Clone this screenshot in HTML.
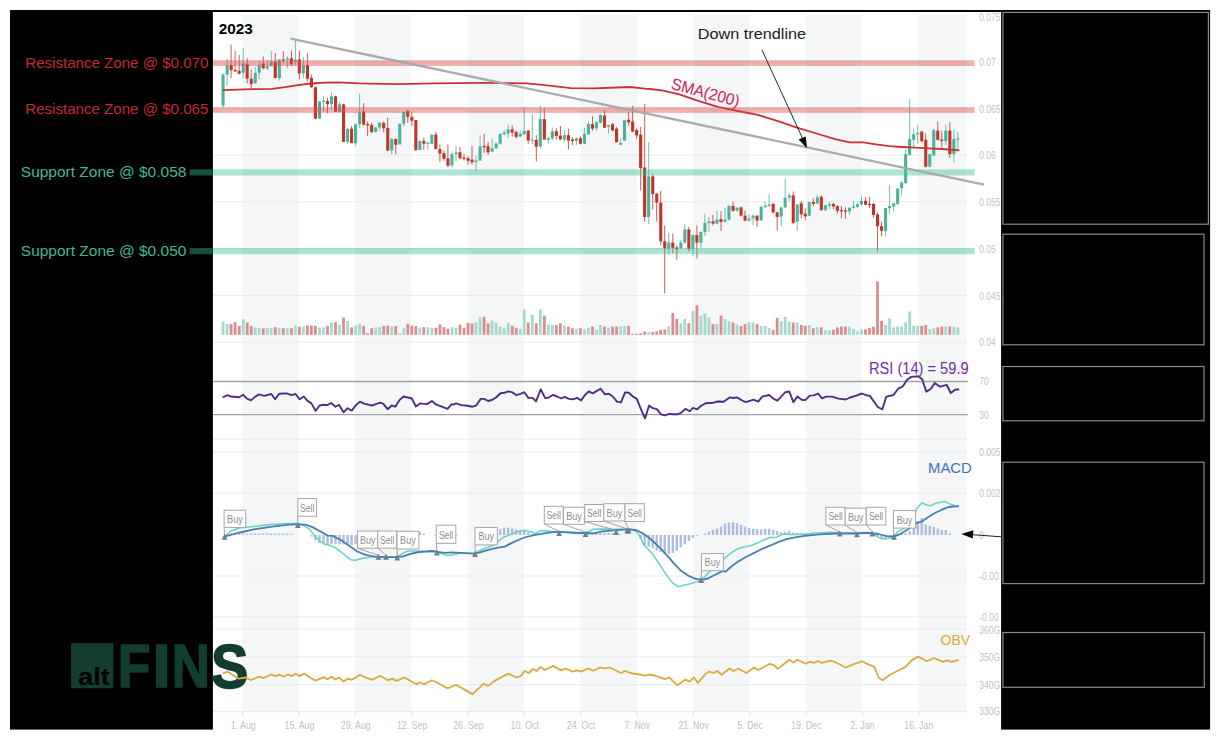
<!DOCTYPE html>
<html lang="en"><head><meta charset="utf-8"><title>Chart 2023</title>
<style>html,body{margin:0;padding:0;background:#fff}svg{display:block;opacity:.999}text{font-family:"Liberation Sans",sans-serif}.ax{font-size:10.5px;fill:#bfbfbf}.fl{font-size:10.5px;fill:#8c8c8c}</style></head><body>
<svg width="1220" height="740" viewBox="0 0 1220 740">
<rect width="1220" height="740" fill="#fff"/>
<g>
<g fill="#f4f6f7">
<rect x="242.3" y="14.8" width="56.3" height="697"/>
<rect x="355" y="14.8" width="56.3" height="697"/>
<rect x="467.7" y="14.8" width="56.3" height="697"/>
<rect x="580.4" y="14.8" width="56.3" height="697"/>
<rect x="693.1" y="14.8" width="56.3" height="697"/>
<rect x="805.8" y="14.8" width="56.3" height="697"/>
<rect x="918.5" y="14.8" width="48.1" height="697"/>
</g>
<g stroke="#ebebec" stroke-width="1.1">
<line x1="213" y1="62.3" x2="967" y2="62.3"/>
<line x1="213" y1="108.8" x2="967" y2="108.8"/>
<line x1="213" y1="155.3" x2="967" y2="155.3"/>
<line x1="213" y1="201.8" x2="967" y2="201.8"/>
<line x1="213" y1="248.6" x2="967" y2="248.6"/>
<line x1="213" y1="295.5" x2="967" y2="295.5"/>
<line x1="213" y1="342.3" x2="967" y2="342.3"/>
<line x1="213" y1="439.2" x2="967" y2="439.2"/>
<line x1="213" y1="451.8" x2="967" y2="451.8"/>
<line x1="213" y1="493.3" x2="967" y2="493.3"/>
<line x1="213" y1="576" x2="967" y2="576"/>
<line x1="213" y1="616.7" x2="967" y2="616.7"/>
<line x1="213" y1="629" x2="967" y2="629"/>
<line x1="213" y1="656.8" x2="967" y2="656.8"/>
<line x1="213" y1="684.6" x2="967" y2="684.6"/>
<line x1="213" y1="711.6" x2="967" y2="711.6"/>
</g>
<g stroke="#e2e2e2" stroke-width="1">
<line x1="242.6" y1="711.6" x2="242.6" y2="716"/>
<line x1="298.9" y1="711.6" x2="298.9" y2="716"/>
<line x1="355.3" y1="711.6" x2="355.3" y2="716"/>
<line x1="411.6" y1="711.6" x2="411.6" y2="716"/>
<line x1="468" y1="711.6" x2="468" y2="716"/>
<line x1="524.4" y1="711.6" x2="524.4" y2="716"/>
<line x1="580.7" y1="711.6" x2="580.7" y2="716"/>
<line x1="637" y1="711.6" x2="637" y2="716"/>
<line x1="693.4" y1="711.6" x2="693.4" y2="716"/>
<line x1="749.8" y1="711.6" x2="749.8" y2="716"/>
<line x1="806.1" y1="711.6" x2="806.1" y2="716"/>
<line x1="862.5" y1="711.6" x2="862.5" y2="716"/>
<line x1="918.8" y1="711.6" x2="918.8" y2="716"/>
</g>
<g>
<rect x="221.7" y="321.7" width="2.8" height="13.1" fill="#a3dacd"/>
<rect x="225.7" y="324.1" width="2.8" height="10.7" fill="#a3dacd"/>
<rect x="229.7" y="324.1" width="2.8" height="10.7" fill="#db8c8c"/>
<rect x="233.7" y="322.2" width="2.8" height="12.6" fill="#db8c8c"/>
<rect x="237.8" y="325.8" width="2.8" height="9" fill="#db8c8c"/>
<rect x="241.8" y="319.2" width="2.8" height="15.6" fill="#a3dacd"/>
<rect x="245.8" y="322.5" width="2.8" height="12.3" fill="#db8c8c"/>
<rect x="249.8" y="325.8" width="2.8" height="9" fill="#db8c8c"/>
<rect x="253.8" y="327.4" width="2.8" height="7.4" fill="#a3dacd"/>
<rect x="257.8" y="327.8" width="2.8" height="7" fill="#a3dacd"/>
<rect x="261.9" y="328.2" width="2.8" height="6.6" fill="#db8c8c"/>
<rect x="265.9" y="327.8" width="2.8" height="7" fill="#a3dacd"/>
<rect x="269.9" y="327.8" width="2.8" height="7" fill="#a3dacd"/>
<rect x="273.9" y="327.1" width="2.8" height="7.7" fill="#db8c8c"/>
<rect x="277.9" y="327.8" width="2.8" height="7" fill="#a3dacd"/>
<rect x="281.9" y="328.2" width="2.8" height="6.6" fill="#db8c8c"/>
<rect x="285.9" y="328.2" width="2.8" height="6.6" fill="#a3dacd"/>
<rect x="290" y="328.2" width="2.8" height="6.6" fill="#db8c8c"/>
<rect x="294" y="325.8" width="2.8" height="9" fill="#a3dacd"/>
<rect x="298" y="326.6" width="2.8" height="8.2" fill="#db8c8c"/>
<rect x="302" y="326.6" width="2.8" height="8.2" fill="#a3dacd"/>
<rect x="306" y="325.5" width="2.8" height="9.3" fill="#db8c8c"/>
<rect x="310" y="325.5" width="2.8" height="9.3" fill="#db8c8c"/>
<rect x="314" y="325.8" width="2.8" height="9" fill="#db8c8c"/>
<rect x="318.1" y="327.4" width="2.8" height="7.4" fill="#a3dacd"/>
<rect x="322.1" y="327.4" width="2.8" height="7.4" fill="#a3dacd"/>
<rect x="326.1" y="325.8" width="2.8" height="9" fill="#db8c8c"/>
<rect x="330.1" y="322.5" width="2.8" height="12.3" fill="#a3dacd"/>
<rect x="334.1" y="322.2" width="2.8" height="12.6" fill="#db8c8c"/>
<rect x="338.1" y="325" width="2.8" height="9.8" fill="#a3dacd"/>
<rect x="342.1" y="317.6" width="2.8" height="17.2" fill="#db8c8c"/>
<rect x="346.2" y="320.9" width="2.8" height="13.9" fill="#a3dacd"/>
<rect x="350.2" y="327.4" width="2.8" height="7.4" fill="#db8c8c"/>
<rect x="354.2" y="325.8" width="2.8" height="9" fill="#a3dacd"/>
<rect x="358.2" y="323.8" width="2.8" height="11" fill="#a3dacd"/>
<rect x="362.2" y="325.8" width="2.8" height="9" fill="#db8c8c"/>
<rect x="366.2" y="333.2" width="2.8" height="1.6" fill="#db8c8c"/>
<rect x="370.3" y="328.2" width="2.8" height="6.6" fill="#db8c8c"/>
<rect x="374.3" y="327.4" width="2.8" height="7.4" fill="#a3dacd"/>
<rect x="378.3" y="327.1" width="2.8" height="7.7" fill="#a3dacd"/>
<rect x="382.3" y="325.8" width="2.8" height="9" fill="#db8c8c"/>
<rect x="386.3" y="325.5" width="2.8" height="9.3" fill="#db8c8c"/>
<rect x="390.3" y="326.6" width="2.8" height="8.2" fill="#a3dacd"/>
<rect x="394.3" y="326.1" width="2.8" height="8.7" fill="#db8c8c"/>
<rect x="398.4" y="333.2" width="2.8" height="1.6" fill="#a3dacd"/>
<rect x="402.4" y="328.2" width="2.8" height="6.6" fill="#a3dacd"/>
<rect x="406.4" y="323.8" width="2.8" height="11" fill="#db8c8c"/>
<rect x="410.4" y="325.5" width="2.8" height="9.3" fill="#db8c8c"/>
<rect x="414.4" y="326.1" width="2.8" height="8.7" fill="#db8c8c"/>
<rect x="418.4" y="327.4" width="2.8" height="7.4" fill="#a3dacd"/>
<rect x="422.4" y="327.1" width="2.8" height="7.7" fill="#db8c8c"/>
<rect x="426.5" y="327.4" width="2.8" height="7.4" fill="#a3dacd"/>
<rect x="430.5" y="327.8" width="2.8" height="7" fill="#a3dacd"/>
<rect x="434.5" y="327.8" width="2.8" height="7" fill="#db8c8c"/>
<rect x="438.5" y="324.5" width="2.8" height="10.3" fill="#db8c8c"/>
<rect x="442.5" y="327.1" width="2.8" height="7.7" fill="#db8c8c"/>
<rect x="446.5" y="328.8" width="2.8" height="6" fill="#db8c8c"/>
<rect x="450.6" y="327.1" width="2.8" height="7.7" fill="#a3dacd"/>
<rect x="454.6" y="327.8" width="2.8" height="7" fill="#a3dacd"/>
<rect x="458.6" y="324.5" width="2.8" height="10.3" fill="#db8c8c"/>
<rect x="462.6" y="327.8" width="2.8" height="7" fill="#db8c8c"/>
<rect x="466.6" y="322.8" width="2.8" height="12" fill="#db8c8c"/>
<rect x="470.6" y="323.3" width="2.8" height="11.5" fill="#db8c8c"/>
<rect x="474.6" y="322.2" width="2.8" height="12.6" fill="#a3dacd"/>
<rect x="478.7" y="316.8" width="2.8" height="18" fill="#a3dacd"/>
<rect x="482.7" y="316.8" width="2.8" height="18" fill="#db8c8c"/>
<rect x="486.7" y="323.3" width="2.8" height="11.5" fill="#db8c8c"/>
<rect x="490.7" y="320.5" width="2.8" height="14.3" fill="#a3dacd"/>
<rect x="494.7" y="322.5" width="2.8" height="12.3" fill="#a3dacd"/>
<rect x="498.7" y="326.6" width="2.8" height="8.2" fill="#a3dacd"/>
<rect x="502.8" y="328.2" width="2.8" height="6.6" fill="#a3dacd"/>
<rect x="506.8" y="322.8" width="2.8" height="12" fill="#a3dacd"/>
<rect x="510.8" y="325.8" width="2.8" height="9" fill="#db8c8c"/>
<rect x="514.8" y="327.8" width="2.8" height="7" fill="#db8c8c"/>
<rect x="518.8" y="328.8" width="2.8" height="6" fill="#a3dacd"/>
<rect x="522.8" y="309.4" width="2.8" height="25.4" fill="#a3dacd"/>
<rect x="526.8" y="322.5" width="2.8" height="12.3" fill="#db8c8c"/>
<rect x="530.9" y="314.6" width="2.8" height="20.2" fill="#a3dacd"/>
<rect x="534.9" y="323.3" width="2.8" height="11.5" fill="#db8c8c"/>
<rect x="538.9" y="309.4" width="2.8" height="25.4" fill="#a3dacd"/>
<rect x="542.9" y="315.6" width="2.8" height="19.2" fill="#db8c8c"/>
<rect x="546.9" y="324.5" width="2.8" height="10.3" fill="#a3dacd"/>
<rect x="550.9" y="325" width="2.8" height="9.8" fill="#a3dacd"/>
<rect x="554.9" y="325" width="2.8" height="9.8" fill="#db8c8c"/>
<rect x="559" y="323.3" width="2.8" height="11.5" fill="#db8c8c"/>
<rect x="563" y="325.8" width="2.8" height="9" fill="#a3dacd"/>
<rect x="567" y="326.6" width="2.8" height="8.2" fill="#db8c8c"/>
<rect x="571" y="328.2" width="2.8" height="6.6" fill="#db8c8c"/>
<rect x="575" y="328.8" width="2.8" height="6" fill="#a3dacd"/>
<rect x="579" y="328.2" width="2.8" height="6.6" fill="#db8c8c"/>
<rect x="583" y="329.4" width="2.8" height="5.4" fill="#a3dacd"/>
<rect x="587.1" y="327.8" width="2.8" height="7" fill="#a3dacd"/>
<rect x="591.1" y="326.6" width="2.8" height="8.2" fill="#db8c8c"/>
<rect x="595.1" y="329.8" width="2.8" height="5" fill="#a3dacd"/>
<rect x="599.1" y="325" width="2.8" height="9.8" fill="#a3dacd"/>
<rect x="603.1" y="326.6" width="2.8" height="8.2" fill="#db8c8c"/>
<rect x="607.1" y="327.8" width="2.8" height="7" fill="#a3dacd"/>
<rect x="611.2" y="326.6" width="2.8" height="8.2" fill="#db8c8c"/>
<rect x="615.2" y="326.6" width="2.8" height="8.2" fill="#db8c8c"/>
<rect x="619.2" y="326.6" width="2.8" height="8.2" fill="#a3dacd"/>
<rect x="623.2" y="326.1" width="2.8" height="8.7" fill="#a3dacd"/>
<rect x="627.2" y="325.8" width="2.8" height="9" fill="#db8c8c"/>
<rect x="631.2" y="333.8" width="2.8" height="1" fill="#db8c8c"/>
<rect x="635.2" y="333.8" width="2.8" height="1" fill="#db8c8c"/>
<rect x="639.3" y="333.2" width="2.8" height="1.6" fill="#db8c8c"/>
<rect x="643.3" y="331.5" width="2.8" height="3.3" fill="#db8c8c"/>
<rect x="647.3" y="332" width="2.8" height="2.8" fill="#a3dacd"/>
<rect x="651.3" y="332" width="2.8" height="2.8" fill="#db8c8c"/>
<rect x="655.3" y="331.5" width="2.8" height="3.3" fill="#db8c8c"/>
<rect x="659.3" y="329.8" width="2.8" height="5" fill="#db8c8c"/>
<rect x="663.4" y="329.4" width="2.8" height="5.4" fill="#db8c8c"/>
<rect x="667.4" y="326.1" width="2.8" height="8.7" fill="#a3dacd"/>
<rect x="671.4" y="313" width="2.8" height="21.8" fill="#db8c8c"/>
<rect x="675.4" y="318.9" width="2.8" height="15.9" fill="#db8c8c"/>
<rect x="679.4" y="323.3" width="2.8" height="11.5" fill="#a3dacd"/>
<rect x="683.4" y="318.9" width="2.8" height="15.9" fill="#a3dacd"/>
<rect x="687.4" y="323.3" width="2.8" height="11.5" fill="#db8c8c"/>
<rect x="691.5" y="311" width="2.8" height="23.8" fill="#a3dacd"/>
<rect x="695.5" y="305.3" width="2.8" height="29.5" fill="#db8c8c"/>
<rect x="699.5" y="315.6" width="2.8" height="19.2" fill="#a3dacd"/>
<rect x="703.5" y="313.5" width="2.8" height="21.3" fill="#a3dacd"/>
<rect x="707.5" y="317.6" width="2.8" height="17.2" fill="#a3dacd"/>
<rect x="711.5" y="324.1" width="2.8" height="10.7" fill="#db8c8c"/>
<rect x="715.5" y="323.8" width="2.8" height="11" fill="#a3dacd"/>
<rect x="719.6" y="315.6" width="2.8" height="19.2" fill="#db8c8c"/>
<rect x="723.6" y="319.2" width="2.8" height="15.6" fill="#a3dacd"/>
<rect x="727.6" y="321.2" width="2.8" height="13.6" fill="#a3dacd"/>
<rect x="731.6" y="322.5" width="2.8" height="12.3" fill="#db8c8c"/>
<rect x="735.6" y="324.5" width="2.8" height="10.3" fill="#a3dacd"/>
<rect x="739.6" y="326.1" width="2.8" height="8.7" fill="#db8c8c"/>
<rect x="743.6" y="324.1" width="2.8" height="10.7" fill="#db8c8c"/>
<rect x="747.7" y="322.5" width="2.8" height="12.3" fill="#a3dacd"/>
<rect x="751.7" y="322.5" width="2.8" height="12.3" fill="#a3dacd"/>
<rect x="755.7" y="324.1" width="2.8" height="10.7" fill="#db8c8c"/>
<rect x="759.7" y="326.1" width="2.8" height="8.7" fill="#a3dacd"/>
<rect x="763.7" y="326.1" width="2.8" height="8.7" fill="#a3dacd"/>
<rect x="767.7" y="327.8" width="2.8" height="7" fill="#a3dacd"/>
<rect x="771.8" y="329.8" width="2.8" height="5" fill="#db8c8c"/>
<rect x="775.8" y="317.9" width="2.8" height="16.9" fill="#db8c8c"/>
<rect x="779.8" y="321.2" width="2.8" height="13.6" fill="#a3dacd"/>
<rect x="783.8" y="316.8" width="2.8" height="18" fill="#a3dacd"/>
<rect x="787.8" y="321.7" width="2.8" height="13.1" fill="#a3dacd"/>
<rect x="791.8" y="322.5" width="2.8" height="12.3" fill="#db8c8c"/>
<rect x="795.8" y="322.5" width="2.8" height="12.3" fill="#a3dacd"/>
<rect x="799.9" y="325" width="2.8" height="9.8" fill="#db8c8c"/>
<rect x="803.9" y="325.8" width="2.8" height="9" fill="#db8c8c"/>
<rect x="807.9" y="325" width="2.8" height="9.8" fill="#a3dacd"/>
<rect x="811.9" y="328.2" width="2.8" height="6.6" fill="#db8c8c"/>
<rect x="815.9" y="327.1" width="2.8" height="7.7" fill="#a3dacd"/>
<rect x="819.9" y="327.4" width="2.8" height="7.4" fill="#db8c8c"/>
<rect x="824" y="330.4" width="2.8" height="4.4" fill="#a3dacd"/>
<rect x="828" y="330.4" width="2.8" height="4.4" fill="#a3dacd"/>
<rect x="832" y="329.8" width="2.8" height="5" fill="#db8c8c"/>
<rect x="836" y="327.4" width="2.8" height="7.4" fill="#db8c8c"/>
<rect x="840" y="326.6" width="2.8" height="8.2" fill="#db8c8c"/>
<rect x="844" y="326.6" width="2.8" height="8.2" fill="#db8c8c"/>
<rect x="848" y="326.6" width="2.8" height="8.2" fill="#a3dacd"/>
<rect x="852.1" y="328.8" width="2.8" height="6" fill="#a3dacd"/>
<rect x="856.1" y="331.5" width="2.8" height="3.3" fill="#a3dacd"/>
<rect x="860.1" y="329.4" width="2.8" height="5.4" fill="#a3dacd"/>
<rect x="864.1" y="329.4" width="2.8" height="5.4" fill="#db8c8c"/>
<rect x="868.1" y="327.8" width="2.8" height="7" fill="#db8c8c"/>
<rect x="872.1" y="326.6" width="2.8" height="8.2" fill="#db8c8c"/>
<rect x="876.1" y="281.5" width="2.8" height="53.3" fill="#db8c8c"/>
<rect x="880.2" y="320.9" width="2.8" height="13.9" fill="#db8c8c"/>
<rect x="884.2" y="325" width="2.8" height="9.8" fill="#a3dacd"/>
<rect x="888.2" y="318.4" width="2.8" height="16.4" fill="#a3dacd"/>
<rect x="892.2" y="327.4" width="2.8" height="7.4" fill="#a3dacd"/>
<rect x="896.2" y="326.6" width="2.8" height="8.2" fill="#a3dacd"/>
<rect x="900.2" y="326.6" width="2.8" height="8.2" fill="#a3dacd"/>
<rect x="904.2" y="322.5" width="2.8" height="12.3" fill="#a3dacd"/>
<rect x="908.3" y="311.4" width="2.8" height="23.4" fill="#a3dacd"/>
<rect x="912.3" y="325.8" width="2.8" height="9" fill="#a3dacd"/>
<rect x="916.3" y="325.8" width="2.8" height="9" fill="#a3dacd"/>
<rect x="920.3" y="325.8" width="2.8" height="9" fill="#db8c8c"/>
<rect x="924.3" y="325" width="2.8" height="9.8" fill="#db8c8c"/>
<rect x="928.3" y="329.1" width="2.8" height="5.7" fill="#a3dacd"/>
<rect x="932.4" y="328.2" width="2.8" height="6.6" fill="#a3dacd"/>
<rect x="936.4" y="327.4" width="2.8" height="7.4" fill="#db8c8c"/>
<rect x="940.4" y="326.6" width="2.8" height="8.2" fill="#db8c8c"/>
<rect x="944.4" y="326.6" width="2.8" height="8.2" fill="#a3dacd"/>
<rect x="948.4" y="326.6" width="2.8" height="8.2" fill="#db8c8c"/>
<rect x="952.4" y="326.6" width="2.8" height="8.2" fill="#a3dacd"/>
<rect x="956.4" y="327.4" width="2.8" height="7.4" fill="#a3dacd"/>
</g>
<g>
<rect x="222.6" y="73.4" width="1" height="34.1" fill="#4bb39a" opacity="0.8"/>
<rect x="221.5" y="74.7" width="3.1" height="30.8" fill="#4bb39a"/>
<rect x="226.6" y="59" width="1" height="26.9" fill="#4bb39a" opacity="0.8"/>
<rect x="225.6" y="65.6" width="3.1" height="9.1" fill="#4bb39a"/>
<rect x="230.6" y="44.6" width="1" height="33.4" fill="#c23428" opacity="0.8"/>
<rect x="229.6" y="64.9" width="3.1" height="5.2" fill="#c23428"/>
<rect x="234.6" y="50.5" width="1" height="21" fill="#c23428" opacity="0.8"/>
<rect x="233.6" y="69.9" width="3.1" height="1.6" fill="#c23428"/>
<rect x="238.7" y="55" width="1" height="19.3" fill="#c23428" opacity="0.8"/>
<rect x="237.6" y="70.8" width="3.1" height="3" fill="#c23428"/>
<rect x="242.7" y="48.5" width="1" height="29.5" fill="#4bb39a" opacity="0.8"/>
<rect x="241.6" y="63.6" width="3.1" height="9.2" fill="#4bb39a"/>
<rect x="246.7" y="58.3" width="1" height="24.9" fill="#c23428" opacity="0.8"/>
<rect x="245.6" y="63.6" width="3.1" height="15.1" fill="#c23428"/>
<rect x="250.7" y="69.5" width="1" height="18.3" fill="#c23428" opacity="0.8"/>
<rect x="249.7" y="78.7" width="3.1" height="5.2" fill="#c23428"/>
<rect x="254.7" y="66.9" width="1" height="17" fill="#4bb39a" opacity="0.8"/>
<rect x="253.7" y="72.8" width="3.1" height="10.4" fill="#4bb39a"/>
<rect x="258.7" y="61" width="1" height="18.3" fill="#4bb39a" opacity="0.8"/>
<rect x="257.7" y="64.9" width="3.1" height="7.9" fill="#4bb39a"/>
<rect x="262.8" y="56.4" width="1" height="13.1" fill="#c23428" opacity="0.8"/>
<rect x="261.7" y="63.6" width="3.1" height="4.6" fill="#c23428"/>
<rect x="266.8" y="59.7" width="1" height="10.4" fill="#4bb39a" opacity="0.8"/>
<rect x="265.7" y="66.2" width="3.1" height="2.4" fill="#4bb39a"/>
<rect x="270.8" y="51.1" width="1" height="15.1" fill="#4bb39a" opacity="0.8"/>
<rect x="269.7" y="61.6" width="3.1" height="4.6" fill="#4bb39a"/>
<rect x="274.8" y="53.1" width="1" height="25.6" fill="#c23428" opacity="0.8"/>
<rect x="273.7" y="61.6" width="3.1" height="16.4" fill="#c23428"/>
<rect x="278.8" y="59" width="1" height="21.6" fill="#4bb39a" opacity="0.8"/>
<rect x="277.8" y="59.7" width="3.1" height="18.3" fill="#4bb39a"/>
<rect x="282.8" y="51.1" width="1" height="11.8" fill="#c23428" opacity="0.8"/>
<rect x="281.8" y="59.4" width="3.1" height="1.2" fill="#c23428"/>
<rect x="286.8" y="56.4" width="1" height="11.8" fill="#4bb39a" opacity="0.8"/>
<rect x="285.8" y="58.3" width="3.1" height="1.4" fill="#4bb39a"/>
<rect x="290.9" y="50.5" width="1" height="15.1" fill="#c23428" opacity="0.8"/>
<rect x="289.8" y="58.3" width="3.1" height="5.9" fill="#c23428"/>
<rect x="294.9" y="40.7" width="1" height="24.9" fill="#4bb39a" opacity="0.8"/>
<rect x="293.8" y="59.7" width="3.1" height="1.9" fill="#4bb39a"/>
<rect x="298.9" y="50.5" width="1" height="28.8" fill="#c23428" opacity="0.8"/>
<rect x="297.8" y="59.4" width="3.1" height="14" fill="#c23428"/>
<rect x="302.9" y="57" width="1" height="21" fill="#4bb39a" opacity="0.8"/>
<rect x="301.8" y="65.6" width="3.1" height="7.8" fill="#4bb39a"/>
<rect x="306.9" y="53.1" width="1" height="28.2" fill="#c23428" opacity="0.8"/>
<rect x="305.9" y="64.9" width="3.1" height="13.8" fill="#c23428"/>
<rect x="310.9" y="74.7" width="1" height="13.1" fill="#c23428" opacity="0.8"/>
<rect x="309.9" y="78" width="3.1" height="9.2" fill="#c23428"/>
<rect x="314.9" y="87.2" width="1" height="32.1" fill="#c23428" opacity="0.8"/>
<rect x="313.9" y="87.2" width="3.1" height="31.4" fill="#c23428"/>
<rect x="319" y="101" width="1" height="17.6" fill="#4bb39a" opacity="0.8"/>
<rect x="317.9" y="101.6" width="3.1" height="17" fill="#4bb39a"/>
<rect x="323" y="96.4" width="1" height="15" fill="#4bb39a" opacity="0.8"/>
<rect x="321.9" y="100.5" width="3.1" height="1.2" fill="#4bb39a"/>
<rect x="327" y="97.7" width="1" height="15.7" fill="#c23428" opacity="0.8"/>
<rect x="325.9" y="101" width="3.1" height="3.2" fill="#c23428"/>
<rect x="331" y="92.4" width="1" height="16.4" fill="#4bb39a" opacity="0.8"/>
<rect x="330" y="96.4" width="3.1" height="7.8" fill="#4bb39a"/>
<rect x="335" y="95.7" width="1" height="16.3" fill="#c23428" opacity="0.8"/>
<rect x="334" y="96.4" width="3.1" height="15.4" fill="#c23428"/>
<rect x="339" y="102" width="1" height="10" fill="#4bb39a" opacity="0.8"/>
<rect x="338" y="104.2" width="3.1" height="7.6" fill="#4bb39a"/>
<rect x="343" y="103.8" width="1" height="38" fill="#c23428" opacity="0.8"/>
<rect x="342" y="104.4" width="3.1" height="37.4" fill="#c23428"/>
<rect x="347.1" y="128" width="1" height="15.7" fill="#4bb39a" opacity="0.8"/>
<rect x="346" y="129" width="3.1" height="12.8" fill="#4bb39a"/>
<rect x="351.1" y="126" width="1" height="17.1" fill="#c23428" opacity="0.8"/>
<rect x="350" y="128.7" width="3.1" height="14.4" fill="#c23428"/>
<rect x="355.1" y="123.4" width="1" height="23" fill="#4bb39a" opacity="0.8"/>
<rect x="354" y="124.3" width="3.1" height="18.8" fill="#4bb39a"/>
<rect x="359.1" y="93.9" width="1" height="34.1" fill="#4bb39a" opacity="0.8"/>
<rect x="358.1" y="112.3" width="3.1" height="12" fill="#4bb39a"/>
<rect x="363.1" y="103.1" width="1" height="22.3" fill="#c23428" opacity="0.8"/>
<rect x="362.1" y="111.6" width="3.1" height="13.1" fill="#c23428"/>
<rect x="367.1" y="121.5" width="1" height="14.4" fill="#c23428" opacity="0.8"/>
<rect x="366.1" y="124" width="3.1" height="1.4" fill="#c23428"/>
<rect x="371.2" y="122.8" width="1" height="10.5" fill="#c23428" opacity="0.8"/>
<rect x="370.1" y="125.1" width="3.1" height="6.8" fill="#c23428"/>
<rect x="375.2" y="126.7" width="1" height="5.9" fill="#4bb39a" opacity="0.8"/>
<rect x="374.1" y="127.4" width="3.1" height="4.5" fill="#4bb39a"/>
<rect x="379.2" y="122" width="1" height="9.3" fill="#4bb39a" opacity="0.8"/>
<rect x="378.1" y="122.8" width="3.1" height="4.6" fill="#4bb39a"/>
<rect x="383.2" y="121.5" width="1" height="11.1" fill="#c23428" opacity="0.8"/>
<rect x="382.1" y="122.8" width="3.1" height="5.5" fill="#c23428"/>
<rect x="387.2" y="117.5" width="1" height="33.5" fill="#c23428" opacity="0.8"/>
<rect x="386.2" y="128" width="3.1" height="22.6" fill="#c23428"/>
<rect x="391.2" y="137.8" width="1" height="16.4" fill="#4bb39a" opacity="0.8"/>
<rect x="390.2" y="139.1" width="3.1" height="11.2" fill="#4bb39a"/>
<rect x="395.2" y="138.5" width="1" height="15.7" fill="#c23428" opacity="0.8"/>
<rect x="394.2" y="139.1" width="3.1" height="5.7" fill="#c23428"/>
<rect x="399.3" y="123.4" width="1" height="21" fill="#4bb39a" opacity="0.8"/>
<rect x="398.2" y="123.8" width="3.1" height="20.6" fill="#4bb39a"/>
<rect x="403.3" y="111.6" width="1" height="15.1" fill="#4bb39a" opacity="0.8"/>
<rect x="402.2" y="112" width="3.1" height="11.8" fill="#4bb39a"/>
<rect x="407.3" y="109.7" width="1" height="13.1" fill="#c23428" opacity="0.8"/>
<rect x="406.2" y="111" width="3.1" height="5.9" fill="#c23428"/>
<rect x="411.3" y="112.3" width="1" height="13.7" fill="#c23428" opacity="0.8"/>
<rect x="410.3" y="116.9" width="3.1" height="3.9" fill="#c23428"/>
<rect x="415.3" y="119.9" width="1" height="30.4" fill="#c23428" opacity="0.8"/>
<rect x="414.3" y="120.1" width="3.1" height="30.2" fill="#c23428"/>
<rect x="419.3" y="140.5" width="1" height="9.8" fill="#4bb39a" opacity="0.8"/>
<rect x="418.3" y="140.9" width="3.1" height="9.1" fill="#4bb39a"/>
<rect x="423.3" y="137.8" width="1" height="11.8" fill="#c23428" opacity="0.8"/>
<rect x="422.3" y="140.9" width="3.1" height="2.8" fill="#c23428"/>
<rect x="427.4" y="141.8" width="1" height="7.8" fill="#4bb39a" opacity="0.8"/>
<rect x="426.3" y="142.7" width="3.1" height="1.2" fill="#4bb39a"/>
<rect x="431.4" y="134.3" width="1" height="9.4" fill="#4bb39a" opacity="0.8"/>
<rect x="430.3" y="134.6" width="3.1" height="9.1" fill="#4bb39a"/>
<rect x="435.4" y="131.9" width="1" height="17.7" fill="#c23428" opacity="0.8"/>
<rect x="434.3" y="134.6" width="3.1" height="14.4" fill="#c23428"/>
<rect x="439.4" y="144.4" width="1" height="17.4" fill="#c23428" opacity="0.8"/>
<rect x="438.4" y="149" width="3.1" height="4.6" fill="#c23428"/>
<rect x="443.4" y="150.3" width="1" height="10.5" fill="#c23428" opacity="0.8"/>
<rect x="442.4" y="153.2" width="3.1" height="5.6" fill="#c23428"/>
<rect x="447.4" y="144.4" width="1" height="22.9" fill="#c23428" opacity="0.8"/>
<rect x="446.4" y="158.4" width="3.1" height="7.4" fill="#c23428"/>
<rect x="451.5" y="151.6" width="1" height="15.7" fill="#4bb39a" opacity="0.8"/>
<rect x="450.4" y="154.2" width="3.1" height="11.2" fill="#4bb39a"/>
<rect x="455.5" y="145.7" width="1" height="15.7" fill="#4bb39a" opacity="0.8"/>
<rect x="454.4" y="152.6" width="3.1" height="1.6" fill="#4bb39a"/>
<rect x="459.5" y="147" width="1" height="12.5" fill="#c23428" opacity="0.8"/>
<rect x="458.4" y="152.3" width="3.1" height="5.9" fill="#c23428"/>
<rect x="463.5" y="153.6" width="1" height="6.5" fill="#c23428" opacity="0.8"/>
<rect x="462.4" y="157.5" width="3.1" height="1.3" fill="#c23428"/>
<rect x="467.5" y="156.2" width="1" height="8.5" fill="#c23428" opacity="0.8"/>
<rect x="466.5" y="158.2" width="3.1" height="2.6" fill="#c23428"/>
<rect x="471.5" y="145.7" width="1" height="19" fill="#c23428" opacity="0.8"/>
<rect x="470.5" y="159.5" width="3.1" height="2.8" fill="#c23428"/>
<rect x="475.5" y="155.5" width="1" height="15.8" fill="#4bb39a" opacity="0.8"/>
<rect x="474.5" y="160.5" width="3.1" height="1.6" fill="#4bb39a"/>
<rect x="479.6" y="135.2" width="1" height="25.6" fill="#4bb39a" opacity="0.8"/>
<rect x="478.5" y="146.4" width="3.1" height="14.1" fill="#4bb39a"/>
<rect x="483.6" y="133.9" width="1" height="19" fill="#c23428" opacity="0.8"/>
<rect x="482.5" y="146.1" width="3.1" height="1.2" fill="#c23428"/>
<rect x="487.6" y="141.8" width="1" height="13.1" fill="#c23428" opacity="0.8"/>
<rect x="486.5" y="146.1" width="3.1" height="6.2" fill="#c23428"/>
<rect x="491.6" y="138.5" width="1" height="13.1" fill="#4bb39a" opacity="0.8"/>
<rect x="490.6" y="148.3" width="3.1" height="3.3" fill="#4bb39a"/>
<rect x="495.6" y="142.4" width="1" height="6.6" fill="#4bb39a" opacity="0.8"/>
<rect x="494.6" y="143.5" width="3.1" height="4.8" fill="#4bb39a"/>
<rect x="499.6" y="133.3" width="1" height="11.1" fill="#4bb39a" opacity="0.8"/>
<rect x="498.6" y="133.9" width="3.1" height="9.8" fill="#4bb39a"/>
<rect x="503.6" y="130" width="1" height="5.2" fill="#4bb39a" opacity="0.8"/>
<rect x="502.6" y="132.6" width="3.1" height="1.7" fill="#4bb39a"/>
<rect x="507.7" y="124.7" width="1" height="13.1" fill="#4bb39a" opacity="0.8"/>
<rect x="506.6" y="129.3" width="3.1" height="4" fill="#4bb39a"/>
<rect x="511.7" y="125.4" width="1" height="11.1" fill="#c23428" opacity="0.8"/>
<rect x="510.6" y="129.3" width="3.1" height="3.3" fill="#c23428"/>
<rect x="515.7" y="130.6" width="1" height="7.9" fill="#c23428" opacity="0.8"/>
<rect x="514.6" y="131.9" width="3.1" height="5" fill="#c23428"/>
<rect x="519.7" y="130.6" width="1" height="6.6" fill="#4bb39a" opacity="0.8"/>
<rect x="518.7" y="133.9" width="3.1" height="2.6" fill="#4bb39a"/>
<rect x="523.7" y="107" width="1" height="27.6" fill="#4bb39a" opacity="0.8"/>
<rect x="522.7" y="130.9" width="3.1" height="3.4" fill="#4bb39a"/>
<rect x="527.7" y="130" width="1" height="13.7" fill="#c23428" opacity="0.8"/>
<rect x="526.7" y="130.6" width="3.1" height="9.9" fill="#c23428"/>
<rect x="531.8" y="113.6" width="1" height="30.8" fill="#4bb39a" opacity="0.8"/>
<rect x="530.7" y="139.5" width="3.1" height="1.2" fill="#4bb39a"/>
<rect x="535.8" y="135.2" width="1" height="26.2" fill="#c23428" opacity="0.8"/>
<rect x="534.7" y="139.8" width="3.1" height="6.8" fill="#c23428"/>
<rect x="539.8" y="105.7" width="1" height="42.6" fill="#4bb39a" opacity="0.8"/>
<rect x="538.7" y="119.1" width="3.1" height="27.5" fill="#4bb39a"/>
<rect x="543.8" y="107.7" width="1" height="32.1" fill="#c23428" opacity="0.8"/>
<rect x="542.8" y="119.1" width="3.1" height="20.4" fill="#c23428"/>
<rect x="547.8" y="136.5" width="1" height="7.2" fill="#4bb39a" opacity="0.8"/>
<rect x="546.8" y="138.2" width="3.1" height="1.6" fill="#4bb39a"/>
<rect x="551.8" y="127.4" width="1" height="13.1" fill="#4bb39a" opacity="0.8"/>
<rect x="550.8" y="131.3" width="3.1" height="7.2" fill="#4bb39a"/>
<rect x="555.8" y="128" width="1" height="11.8" fill="#c23428" opacity="0.8"/>
<rect x="554.8" y="131.3" width="3.1" height="4.6" fill="#c23428"/>
<rect x="559.9" y="126" width="1" height="13.8" fill="#c23428" opacity="0.8"/>
<rect x="558.8" y="135.6" width="3.1" height="3.9" fill="#c23428"/>
<rect x="563.9" y="130" width="1" height="11.8" fill="#4bb39a" opacity="0.8"/>
<rect x="562.8" y="135.2" width="3.1" height="4.3" fill="#4bb39a"/>
<rect x="567.9" y="128.7" width="1" height="20.9" fill="#c23428" opacity="0.8"/>
<rect x="566.8" y="135.2" width="3.1" height="5.3" fill="#c23428"/>
<rect x="571.9" y="137.2" width="1" height="7.8" fill="#c23428" opacity="0.8"/>
<rect x="570.9" y="139.5" width="3.1" height="1.6" fill="#c23428"/>
<rect x="575.9" y="137.8" width="1" height="7.2" fill="#4bb39a" opacity="0.8"/>
<rect x="574.9" y="138.2" width="3.1" height="2.7" fill="#4bb39a"/>
<rect x="579.9" y="136.5" width="1" height="7.9" fill="#c23428" opacity="0.8"/>
<rect x="578.9" y="138.2" width="3.1" height="5.5" fill="#c23428"/>
<rect x="583.9" y="128" width="1" height="16.4" fill="#4bb39a" opacity="0.8"/>
<rect x="582.9" y="133.9" width="3.1" height="9.8" fill="#4bb39a"/>
<rect x="588" y="121.5" width="1" height="13.1" fill="#4bb39a" opacity="0.8"/>
<rect x="586.9" y="124.1" width="3.1" height="10.2" fill="#4bb39a"/>
<rect x="592" y="116.2" width="1" height="14.4" fill="#c23428" opacity="0.8"/>
<rect x="590.9" y="124.1" width="3.1" height="4.6" fill="#c23428"/>
<rect x="596" y="121.5" width="1" height="9.1" fill="#4bb39a" opacity="0.8"/>
<rect x="594.9" y="122.1" width="3.1" height="6.2" fill="#4bb39a"/>
<rect x="600" y="114.3" width="1" height="9.1" fill="#4bb39a" opacity="0.8"/>
<rect x="599" y="114.9" width="3.1" height="7.9" fill="#4bb39a"/>
<rect x="604" y="110.3" width="1" height="17.7" fill="#c23428" opacity="0.8"/>
<rect x="603" y="115.6" width="3.1" height="12.1" fill="#c23428"/>
<rect x="608" y="124.7" width="1" height="8.6" fill="#4bb39a" opacity="0.8"/>
<rect x="607" y="125.1" width="3.1" height="1.6" fill="#4bb39a"/>
<rect x="612.1" y="122.8" width="1" height="8.5" fill="#c23428" opacity="0.8"/>
<rect x="611" y="124.3" width="3.1" height="6.1" fill="#c23428"/>
<rect x="616.1" y="126.7" width="1" height="15.7" fill="#c23428" opacity="0.8"/>
<rect x="615" y="128.7" width="3.1" height="13.5" fill="#c23428"/>
<rect x="620.1" y="138.5" width="1" height="6.5" fill="#4bb39a" opacity="0.8"/>
<rect x="619" y="143.1" width="3.1" height="1.7" fill="#4bb39a"/>
<rect x="624.1" y="119.9" width="1" height="21.2" fill="#4bb39a" opacity="0.8"/>
<rect x="623" y="120.1" width="3.1" height="20.4" fill="#4bb39a"/>
<rect x="628.1" y="111.8" width="1" height="13.8" fill="#c23428" opacity="0.8"/>
<rect x="627.1" y="119.7" width="3.1" height="2.6" fill="#c23428"/>
<rect x="632.1" y="105.9" width="1" height="26.2" fill="#c23428" opacity="0.8"/>
<rect x="631.1" y="121.6" width="3.1" height="9.9" fill="#c23428"/>
<rect x="636.1" y="128.2" width="1" height="10.5" fill="#c23428" opacity="0.8"/>
<rect x="635.1" y="130.1" width="3.1" height="5.3" fill="#c23428"/>
<rect x="640.2" y="126.9" width="1" height="63.5" fill="#c23428" opacity="0.8"/>
<rect x="639.1" y="134.7" width="3.1" height="33.5" fill="#c23428"/>
<rect x="644.2" y="103.9" width="1" height="117.7" fill="#c23428" opacity="0.8"/>
<rect x="643.1" y="167.5" width="3.1" height="49.5" fill="#c23428"/>
<rect x="648.2" y="142" width="1" height="82.2" fill="#4bb39a" opacity="0.8"/>
<rect x="647.1" y="176.4" width="3.1" height="40.6" fill="#4bb39a"/>
<rect x="652.2" y="173.8" width="1" height="36" fill="#c23428" opacity="0.8"/>
<rect x="651.2" y="176.4" width="3.1" height="17.7" fill="#c23428"/>
<rect x="656.2" y="193" width="1" height="28.6" fill="#c23428" opacity="0.8"/>
<rect x="655.2" y="193.8" width="3.1" height="8.8" fill="#c23428"/>
<rect x="660.2" y="190.8" width="1" height="54.4" fill="#c23428" opacity="0.8"/>
<rect x="659.2" y="202.6" width="3.1" height="38.7" fill="#c23428"/>
<rect x="664.2" y="225.5" width="1" height="67.7" fill="#c23428" opacity="0.8"/>
<rect x="663.2" y="241.3" width="3.1" height="7.2" fill="#c23428"/>
<rect x="668.3" y="232.7" width="1" height="21.8" fill="#4bb39a" opacity="0.8"/>
<rect x="667.2" y="242.6" width="3.1" height="5.9" fill="#4bb39a"/>
<rect x="672.3" y="233.4" width="1" height="19.8" fill="#c23428" opacity="0.8"/>
<rect x="671.2" y="242.6" width="3.1" height="5.2" fill="#c23428"/>
<rect x="676.3" y="245.2" width="1" height="14.5" fill="#c23428" opacity="0.8"/>
<rect x="675.2" y="247.5" width="3.1" height="1.6" fill="#c23428"/>
<rect x="680.3" y="239.9" width="1" height="9.2" fill="#4bb39a" opacity="0.8"/>
<rect x="679.3" y="242.6" width="3.1" height="5.5" fill="#4bb39a"/>
<rect x="684.3" y="224.2" width="1" height="19.7" fill="#4bb39a" opacity="0.8"/>
<rect x="683.3" y="229.5" width="3.1" height="13.1" fill="#4bb39a"/>
<rect x="688.3" y="226.8" width="1" height="24.9" fill="#c23428" opacity="0.8"/>
<rect x="687.3" y="229.5" width="3.1" height="19.6" fill="#c23428"/>
<rect x="692.4" y="234.7" width="1" height="21.8" fill="#4bb39a" opacity="0.8"/>
<rect x="691.3" y="235" width="3.1" height="14.1" fill="#4bb39a"/>
<rect x="696.4" y="225.5" width="1" height="32.9" fill="#c23428" opacity="0.8"/>
<rect x="695.3" y="235" width="3.1" height="7.6" fill="#c23428"/>
<rect x="700.4" y="231.4" width="1" height="16.4" fill="#4bb39a" opacity="0.8"/>
<rect x="699.3" y="232.1" width="3.1" height="10.7" fill="#4bb39a"/>
<rect x="704.4" y="213.7" width="1" height="22.3" fill="#4bb39a" opacity="0.8"/>
<rect x="703.4" y="222.9" width="3.1" height="9.2" fill="#4bb39a"/>
<rect x="708.4" y="217" width="1" height="14.4" fill="#4bb39a" opacity="0.8"/>
<rect x="707.4" y="221.3" width="3.1" height="1.6" fill="#4bb39a"/>
<rect x="712.4" y="215" width="1" height="10.5" fill="#c23428" opacity="0.8"/>
<rect x="711.4" y="221.3" width="3.1" height="2.3" fill="#c23428"/>
<rect x="716.4" y="210.5" width="1" height="13.7" fill="#4bb39a" opacity="0.8"/>
<rect x="715.4" y="219.6" width="3.1" height="4" fill="#4bb39a"/>
<rect x="720.5" y="211.1" width="1" height="19.7" fill="#c23428" opacity="0.8"/>
<rect x="719.4" y="219.2" width="3.1" height="2.7" fill="#c23428"/>
<rect x="724.5" y="207.8" width="1" height="14.5" fill="#4bb39a" opacity="0.8"/>
<rect x="723.4" y="219.6" width="3.1" height="2" fill="#4bb39a"/>
<rect x="728.5" y="205.2" width="1" height="15.1" fill="#4bb39a" opacity="0.8"/>
<rect x="727.4" y="205.9" width="3.1" height="13.7" fill="#4bb39a"/>
<rect x="732.5" y="201.7" width="1" height="10.1" fill="#c23428" opacity="0.8"/>
<rect x="731.5" y="205.9" width="3.1" height="4.9" fill="#c23428"/>
<rect x="736.5" y="207.2" width="1" height="4.6" fill="#4bb39a" opacity="0.8"/>
<rect x="735.5" y="207.8" width="3.1" height="2.7" fill="#4bb39a"/>
<rect x="740.5" y="206.5" width="1" height="9.9" fill="#c23428" opacity="0.8"/>
<rect x="739.5" y="207.4" width="3.1" height="8.3" fill="#c23428"/>
<rect x="744.5" y="210.5" width="1" height="10.8" fill="#c23428" opacity="0.8"/>
<rect x="743.5" y="215.7" width="3.1" height="4.9" fill="#c23428"/>
<rect x="748.6" y="214.4" width="1" height="7.2" fill="#4bb39a" opacity="0.8"/>
<rect x="747.5" y="218.7" width="3.1" height="1.9" fill="#4bb39a"/>
<rect x="752.6" y="214.4" width="1" height="10.5" fill="#4bb39a" opacity="0.8"/>
<rect x="751.5" y="215.7" width="3.1" height="2.6" fill="#4bb39a"/>
<rect x="756.6" y="215" width="1" height="11.8" fill="#c23428" opacity="0.8"/>
<rect x="755.5" y="215.7" width="3.1" height="4.9" fill="#c23428"/>
<rect x="760.6" y="205.9" width="1" height="15.1" fill="#4bb39a" opacity="0.8"/>
<rect x="759.6" y="206.9" width="3.1" height="13.4" fill="#4bb39a"/>
<rect x="764.6" y="201.9" width="1" height="5.9" fill="#4bb39a" opacity="0.8"/>
<rect x="763.6" y="205.6" width="3.1" height="1.6" fill="#4bb39a"/>
<rect x="768.6" y="194.1" width="1" height="12.4" fill="#4bb39a" opacity="0.8"/>
<rect x="767.6" y="204.6" width="3.1" height="1.5" fill="#4bb39a"/>
<rect x="772.7" y="202.6" width="1" height="11.1" fill="#c23428" opacity="0.8"/>
<rect x="771.6" y="203.9" width="3.1" height="8.5" fill="#c23428"/>
<rect x="776.7" y="211.8" width="1" height="19" fill="#c23428" opacity="0.8"/>
<rect x="775.6" y="212.4" width="3.1" height="4.6" fill="#c23428"/>
<rect x="780.7" y="206.5" width="1" height="19.7" fill="#4bb39a" opacity="0.8"/>
<rect x="779.6" y="207.4" width="3.1" height="9.2" fill="#4bb39a"/>
<rect x="784.7" y="179" width="1" height="28.8" fill="#4bb39a" opacity="0.8"/>
<rect x="783.6" y="197.7" width="3.1" height="9.7" fill="#4bb39a"/>
<rect x="788.7" y="192.8" width="1" height="8.5" fill="#4bb39a" opacity="0.8"/>
<rect x="787.7" y="195.4" width="3.1" height="2.3" fill="#4bb39a"/>
<rect x="792.7" y="191.5" width="1" height="32.7" fill="#c23428" opacity="0.8"/>
<rect x="791.7" y="195.4" width="3.1" height="27.5" fill="#c23428"/>
<rect x="796.7" y="203.9" width="1" height="26.9" fill="#4bb39a" opacity="0.8"/>
<rect x="795.7" y="204.6" width="3.1" height="17" fill="#4bb39a"/>
<rect x="800.8" y="201.3" width="1" height="17" fill="#c23428" opacity="0.8"/>
<rect x="799.7" y="203.3" width="3.1" height="11.1" fill="#c23428"/>
<rect x="804.8" y="208.5" width="1" height="11.8" fill="#c23428" opacity="0.8"/>
<rect x="803.7" y="213.7" width="3.1" height="2.7" fill="#c23428"/>
<rect x="808.8" y="201.3" width="1" height="15.1" fill="#4bb39a" opacity="0.8"/>
<rect x="807.7" y="202.2" width="3.1" height="13.5" fill="#4bb39a"/>
<rect x="812.8" y="198" width="1" height="8.5" fill="#c23428" opacity="0.8"/>
<rect x="811.8" y="201.9" width="3.1" height="2" fill="#c23428"/>
<rect x="816.8" y="194.7" width="1" height="9.2" fill="#4bb39a" opacity="0.8"/>
<rect x="815.8" y="197.4" width="3.1" height="6.1" fill="#4bb39a"/>
<rect x="820.8" y="195.4" width="1" height="15.1" fill="#c23428" opacity="0.8"/>
<rect x="819.8" y="196.7" width="3.1" height="13.4" fill="#c23428"/>
<rect x="824.9" y="204.6" width="1" height="6.5" fill="#4bb39a" opacity="0.8"/>
<rect x="823.8" y="205.2" width="3.1" height="4.9" fill="#4bb39a"/>
<rect x="828.9" y="201.9" width="1" height="7.2" fill="#4bb39a" opacity="0.8"/>
<rect x="827.8" y="204.3" width="3.1" height="1.3" fill="#4bb39a"/>
<rect x="832.9" y="202.6" width="1" height="6.5" fill="#c23428" opacity="0.8"/>
<rect x="831.8" y="203.9" width="3.1" height="2.6" fill="#c23428"/>
<rect x="836.9" y="205.2" width="1" height="8.5" fill="#c23428" opacity="0.8"/>
<rect x="835.8" y="206.1" width="3.1" height="4.8" fill="#c23428"/>
<rect x="840.9" y="205.9" width="1" height="12.4" fill="#c23428" opacity="0.8"/>
<rect x="839.9" y="210.1" width="3.1" height="1.2" fill="#c23428"/>
<rect x="844.9" y="207.2" width="1" height="11.8" fill="#c23428" opacity="0.8"/>
<rect x="843.9" y="210.5" width="3.1" height="1.2" fill="#c23428"/>
<rect x="848.9" y="207.2" width="1" height="7.2" fill="#4bb39a" opacity="0.8"/>
<rect x="847.9" y="207.8" width="3.1" height="3.6" fill="#4bb39a"/>
<rect x="853" y="200.6" width="1" height="7.9" fill="#4bb39a" opacity="0.8"/>
<rect x="851.9" y="206.5" width="3.1" height="1.3" fill="#4bb39a"/>
<rect x="857" y="203.3" width="1" height="4.5" fill="#4bb39a" opacity="0.8"/>
<rect x="855.9" y="204.3" width="3.1" height="2.6" fill="#4bb39a"/>
<rect x="861" y="196.7" width="1" height="8.5" fill="#4bb39a" opacity="0.8"/>
<rect x="859.9" y="200.9" width="3.1" height="3.7" fill="#4bb39a"/>
<rect x="865" y="197.4" width="1" height="7.8" fill="#c23428" opacity="0.8"/>
<rect x="864" y="200.9" width="3.1" height="3.7" fill="#c23428"/>
<rect x="869" y="196.7" width="1" height="11.1" fill="#c23428" opacity="0.8"/>
<rect x="868" y="203.9" width="3.1" height="1.2" fill="#c23428"/>
<rect x="873" y="202.6" width="1" height="15.1" fill="#c23428" opacity="0.8"/>
<rect x="872" y="203.9" width="3.1" height="11.1" fill="#c23428"/>
<rect x="877" y="212.4" width="1" height="39.3" fill="#c23428" opacity="0.8"/>
<rect x="876" y="214.4" width="3.1" height="11.8" fill="#c23428"/>
<rect x="881.1" y="221.6" width="1" height="14.4" fill="#c23428" opacity="0.8"/>
<rect x="880" y="226.2" width="3.1" height="4.6" fill="#c23428"/>
<rect x="885.1" y="207.8" width="1" height="28.9" fill="#4bb39a" opacity="0.8"/>
<rect x="884" y="208.2" width="3.1" height="22.6" fill="#4bb39a"/>
<rect x="889.1" y="184.9" width="1" height="28.8" fill="#4bb39a" opacity="0.8"/>
<rect x="888" y="205.9" width="3.1" height="2.3" fill="#4bb39a"/>
<rect x="893.1" y="202.6" width="1" height="9.2" fill="#4bb39a" opacity="0.8"/>
<rect x="892.1" y="203.3" width="3.1" height="3.2" fill="#4bb39a"/>
<rect x="897.1" y="188.2" width="1" height="17" fill="#4bb39a" opacity="0.8"/>
<rect x="896.1" y="188.6" width="3.1" height="15.3" fill="#4bb39a"/>
<rect x="901.1" y="181" width="1" height="14.4" fill="#4bb39a" opacity="0.8"/>
<rect x="900.1" y="182.5" width="3.1" height="5.7" fill="#4bb39a"/>
<rect x="905.1" y="149" width="1" height="34.7" fill="#4bb39a" opacity="0.8"/>
<rect x="904.1" y="154.2" width="3.1" height="28.9" fill="#4bb39a"/>
<rect x="909.2" y="99.2" width="1" height="56.3" fill="#4bb39a" opacity="0.8"/>
<rect x="908.1" y="139.1" width="3.1" height="15.8" fill="#4bb39a"/>
<rect x="913.2" y="128.7" width="1" height="19" fill="#4bb39a" opacity="0.8"/>
<rect x="912.1" y="134.3" width="3.1" height="5.5" fill="#4bb39a"/>
<rect x="917.2" y="124.7" width="1" height="19" fill="#4bb39a" opacity="0.8"/>
<rect x="916.1" y="133" width="3.1" height="1.3" fill="#4bb39a"/>
<rect x="921.2" y="130.6" width="1" height="11.8" fill="#c23428" opacity="0.8"/>
<rect x="920.2" y="131.7" width="3.1" height="9.4" fill="#c23428"/>
<rect x="925.2" y="133.3" width="1" height="34" fill="#c23428" opacity="0.8"/>
<rect x="924.2" y="139.8" width="3.1" height="26.9" fill="#c23428"/>
<rect x="929.2" y="153.6" width="1" height="13.7" fill="#4bb39a" opacity="0.8"/>
<rect x="928.2" y="154.2" width="3.1" height="12.5" fill="#4bb39a"/>
<rect x="933.3" y="128.7" width="1" height="27.5" fill="#4bb39a" opacity="0.8"/>
<rect x="932.2" y="130" width="3.1" height="25.5" fill="#4bb39a"/>
<rect x="937.3" y="121.5" width="1" height="19" fill="#c23428" opacity="0.8"/>
<rect x="936.2" y="130.6" width="3.1" height="9.2" fill="#c23428"/>
<rect x="941.3" y="130.6" width="1" height="17.1" fill="#c23428" opacity="0.8"/>
<rect x="940.2" y="139.5" width="3.1" height="1.4" fill="#c23428"/>
<rect x="945.3" y="124.7" width="1" height="20.3" fill="#4bb39a" opacity="0.8"/>
<rect x="944.2" y="130.6" width="3.1" height="10.5" fill="#4bb39a"/>
<rect x="949.3" y="122.1" width="1" height="36.1" fill="#c23428" opacity="0.8"/>
<rect x="948.3" y="130.6" width="3.1" height="23.6" fill="#c23428"/>
<rect x="953.3" y="129.3" width="1" height="33.4" fill="#4bb39a" opacity="0.8"/>
<rect x="952.3" y="139.1" width="3.1" height="15.1" fill="#4bb39a"/>
<rect x="957.3" y="131.9" width="1" height="18.4" fill="#4bb39a" opacity="0.8"/>
<rect x="956.3" y="138.5" width="3.1" height="1.3" fill="#4bb39a"/>
</g>
<path d="M222.8 90.2 L252 89.2 L272 88.8 L285 87.2 L298 85.2 L311 83.5 L324.5 82.6 L337.6 82.3 L360 83.4 L397 84.1 L434 83.4 L483 82.9 L527 83.4 L547 85.3 L571 88.1 L594 88.3 L630 87 L645 88.6 L650 89 L661.8 90.4 L679.4 94.3 L699 101.2 L718.6 107.1 L738.1 111 L757.7 114.9 L777.3 120.8 L796.9 127.6 L816.5 133.5 L836.1 139.4 L850 142.3 L863 142.4 L876.1 144.4 L889.2 146.1 L902.3 147 L915.5 147.7 L928.6 148.3 L941.7 149 L959.4 150.3" fill="none" stroke="#cc2f35" stroke-width="1.8" stroke-linejoin="round"/>
<g stroke="#a2a2a2" stroke-width="1.3"><line x1="213" y1="381.5" x2="968" y2="381.5"/><line x1="213" y1="414.7" x2="968" y2="414.7"/></g>
<path d="M222.6 397.5 L227.3 395.2 L231 396.5 L239.2 397.3 L243.3 394.8 L246.8 398.5 L250.9 400.4 L255 396.9 L259.1 394.4 L264.2 395.9 L271.4 394 L275.1 399.3 L279.2 393.8 L286.8 393.4 L291.5 395.2 L295.6 394 L299.7 399.3 L303.8 396.5 L307.3 400.6 L311.4 403.4 L315.5 410.8 L319.6 405.5 L323.7 404.7 L327.3 405.1 L331.2 403 L335.5 406.7 L339 404.7 L343.5 412.3 L347.6 408.2 L351.7 410.6 L356.4 404.7 L359.9 401.6 L364 403.6 L371.8 405.5 L375.9 404.1 L380 402.6 L383.1 403.6 L387.6 409.2 L391.7 405.5 L395.4 406.7 L399.5 400 L403.6 396.5 L407.7 397.5 L411.8 398.5 L415.9 406.5 L420 403.4 L427.1 404.1 L431.9 401 L436.4 404.7 L440.5 406.1 L447.6 408.8 L451.7 404.1 L453 404.7 L456.1 403.4 L461.2 405.1 L467.3 405.7 L472.5 406.7 L476 405.7 L480.7 398.9 L484.1 398.9 L488.2 401 L491.9 400 L496 397.5 L500.5 393.2 L504.2 392.8 L508.3 391.4 L512.4 392.4 L516.5 395.2 L520.6 393.8 L524.3 392.2 L528.4 397.9 L532.5 397.9 L536 401.4 L540.7 389.3 L545.2 398.1 L548.9 397.5 L553 394.8 L557.1 396.5 L561.2 398.5 L564.7 396.9 L568.8 398.9 L572.9 399.3 L577 397.9 L581.1 400.4 L585.2 394.8 L588.7 391.4 L592.8 393.4 L596.4 391.1 L600.5 388.7 L605 394.4 L608.7 393.8 L612.8 396.5 L616.9 401.6 L621 402.4 L625.1 392.4 L628.8 392.8 L632.9 396.5 L636.8 398.9 L640.9 409.2 L645 418.4 L649.1 405.5 L652.8 408.2 L656.9 409.2 L661 414.3 L665.1 415.3 L669.2 413.9 L673.3 414.3 L677.4 414.3 L680.9 412.9 L685.6 408.8 L689.7 411.2 L693 407.9 L697.1 409.3 L701.2 405.8 L705.7 403.2 L713.5 402.7 L717.6 401.5 L723.7 401.7 L729.5 397.4 L733 398 L737.1 397.4 L742.2 400.5 L745.9 402.1 L753.5 399.7 L758.2 401.7 L762.3 396.6 L769.2 395 L773.3 398.6 L777.4 400.7 L785.2 392.3 L789.3 391.5 L793.4 402.1 L797.5 396.4 L801.6 399.7 L805.3 400.1 L809.8 395.6 L813.9 395.4 L818 393.5 L822.1 398.4 L826.2 396.6 L832.3 396.6 L838.5 398.6 L845.7 399.5 L850.2 397.5 L855.5 395.9 L862 393.5 L866 395.2 L869.9 395.9 L877.8 407 L882.3 409.3 L886.3 396.6 L893.5 395 L898.1 388.7 L902.7 386.5 L907.3 379.5 L911.2 376.9 L918.4 376.2 L922.3 379.5 L926.3 391.7 L930.9 388.7 L934.8 383 L940 386.7 L946.6 384.8 L950.8 393 L955.1 389.7 L959.1 389.3" fill="none" stroke="#4f2d86" stroke-width="1.9" stroke-linejoin="round"/>
<g fill="#aebce0">
<rect x="225.9" y="534.2" width="2.4" height="0.8"/>
<rect x="229.9" y="533.5" width="2.4" height="1.5"/>
<rect x="233.9" y="533.5" width="2.4" height="1.5"/>
<rect x="238" y="533.5" width="2.4" height="1.5"/>
<rect x="242" y="533.5" width="2.4" height="1.5"/>
<rect x="246" y="533.5" width="2.4" height="1.5"/>
<rect x="250" y="533.5" width="2.4" height="1.5"/>
<rect x="254" y="533.5" width="2.4" height="1.5"/>
<rect x="258" y="533.5" width="2.4" height="1.5"/>
<rect x="262.1" y="533.5" width="2.4" height="1.5"/>
<rect x="266.1" y="533.5" width="2.4" height="1.5"/>
<rect x="270.1" y="533.5" width="2.4" height="1.5"/>
<rect x="274.1" y="533.5" width="2.4" height="1.5"/>
<rect x="278.1" y="533.5" width="2.4" height="1.5"/>
<rect x="282.1" y="533.5" width="2.4" height="1.5"/>
<rect x="286.1" y="533.5" width="2.4" height="1.5"/>
<rect x="290.2" y="533.8" width="2.4" height="1.2"/>
<rect x="310.2" y="535" width="2.4" height="1.5"/>
<rect x="314.2" y="535" width="2.4" height="5.1"/>
<rect x="318.3" y="535" width="2.4" height="7.9"/>
<rect x="322.3" y="535" width="2.4" height="8.5"/>
<rect x="326.3" y="535" width="2.4" height="9"/>
<rect x="330.3" y="535" width="2.4" height="9.1"/>
<rect x="334.3" y="535" width="2.4" height="9.2"/>
<rect x="338.3" y="535" width="2.4" height="9.4"/>
<rect x="342.3" y="535" width="2.4" height="9.5"/>
<rect x="346.4" y="535" width="2.4" height="9.7"/>
<rect x="350.4" y="535" width="2.4" height="10"/>
<rect x="354.4" y="535" width="2.4" height="9.2"/>
<rect x="358.4" y="535" width="2.4" height="8.2"/>
<rect x="362.4" y="535" width="2.4" height="5.5"/>
<rect x="366.4" y="535" width="2.4" height="2.2"/>
<rect x="398.6" y="532.9" width="2.4" height="2.1"/>
<rect x="402.6" y="531.5" width="2.4" height="3.5"/>
<rect x="406.6" y="531.3" width="2.4" height="3.7"/>
<rect x="410.6" y="531.1" width="2.4" height="3.9"/>
<rect x="414.6" y="531.5" width="2.4" height="3.5"/>
<rect x="418.6" y="532.3" width="2.4" height="2.7"/>
<rect x="422.6" y="533.6" width="2.4" height="1.4"/>
<rect x="434.7" y="535" width="2.4" height="0.7"/>
<rect x="438.7" y="535" width="2.4" height="1"/>
<rect x="442.7" y="535" width="2.4" height="1.8"/>
<rect x="446.7" y="535" width="2.4" height="2.3"/>
<rect x="450.8" y="535" width="2.4" height="1.6"/>
<rect x="454.8" y="535" width="2.4" height="0.9"/>
<rect x="478.9" y="534" width="2.4" height="1"/>
<rect x="482.9" y="533.4" width="2.4" height="1.6"/>
<rect x="486.9" y="532.8" width="2.4" height="2.2"/>
<rect x="490.9" y="532.1" width="2.4" height="2.9"/>
<rect x="494.9" y="531.4" width="2.4" height="3.6"/>
<rect x="498.9" y="529.4" width="2.4" height="5.6"/>
<rect x="502.9" y="527.7" width="2.4" height="7.3"/>
<rect x="507" y="527.6" width="2.4" height="7.4"/>
<rect x="511" y="528.3" width="2.4" height="6.7"/>
<rect x="515" y="529.3" width="2.4" height="5.7"/>
<rect x="519" y="530.2" width="2.4" height="4.8"/>
<rect x="523" y="531" width="2.4" height="4"/>
<rect x="527" y="532.6" width="2.4" height="2.4"/>
<rect x="531.1" y="534" width="2.4" height="1"/>
<rect x="587.3" y="534" width="2.4" height="1"/>
<rect x="591.3" y="533.3" width="2.4" height="1.7"/>
<rect x="595.3" y="533" width="2.4" height="2"/>
<rect x="599.3" y="532.8" width="2.4" height="2.2"/>
<rect x="603.3" y="532.9" width="2.4" height="2.1"/>
<rect x="607.3" y="532.9" width="2.4" height="2.1"/>
<rect x="611.4" y="533.1" width="2.4" height="1.9"/>
<rect x="615.4" y="533.7" width="2.4" height="1.3"/>
<rect x="619.4" y="534.3" width="2.4" height="0.7"/>
<rect x="639.5" y="535" width="2.4" height="3.5"/>
<rect x="643.5" y="535" width="2.4" height="10.4"/>
<rect x="647.5" y="535" width="2.4" height="11.8"/>
<rect x="651.5" y="535" width="2.4" height="13.2"/>
<rect x="655.5" y="535" width="2.4" height="15.4"/>
<rect x="659.5" y="535" width="2.4" height="16.9"/>
<rect x="663.5" y="535" width="2.4" height="18.4"/>
<rect x="667.6" y="535" width="2.4" height="19"/>
<rect x="671.6" y="535" width="2.4" height="17.9"/>
<rect x="675.6" y="535" width="2.4" height="15.6"/>
<rect x="679.6" y="535" width="2.4" height="12.3"/>
<rect x="683.6" y="535" width="2.4" height="9.3"/>
<rect x="687.6" y="535" width="2.4" height="5.9"/>
<rect x="691.7" y="535" width="2.4" height="2.9"/>
<rect x="695.7" y="535" width="2.4" height="1"/>
<rect x="703.7" y="533.5" width="2.4" height="1.5"/>
<rect x="707.7" y="531.6" width="2.4" height="3.4"/>
<rect x="711.7" y="529.9" width="2.4" height="5.1"/>
<rect x="715.7" y="528.7" width="2.4" height="6.3"/>
<rect x="719.8" y="526.7" width="2.4" height="8.3"/>
<rect x="723.8" y="523.5" width="2.4" height="11.5"/>
<rect x="727.8" y="522.7" width="2.4" height="12.3"/>
<rect x="731.8" y="522.2" width="2.4" height="12.8"/>
<rect x="735.8" y="523.1" width="2.4" height="11.9"/>
<rect x="739.8" y="525" width="2.4" height="10"/>
<rect x="743.8" y="526.6" width="2.4" height="8.4"/>
<rect x="747.9" y="527.9" width="2.4" height="7.1"/>
<rect x="751.9" y="528.7" width="2.4" height="6.3"/>
<rect x="755.9" y="529.2" width="2.4" height="5.8"/>
<rect x="759.9" y="529.5" width="2.4" height="5.5"/>
<rect x="763.9" y="528.8" width="2.4" height="6.2"/>
<rect x="767.9" y="528.8" width="2.4" height="6.2"/>
<rect x="772" y="530" width="2.4" height="5"/>
<rect x="776" y="531.3" width="2.4" height="3.7"/>
<rect x="780" y="532.4" width="2.4" height="2.6"/>
<rect x="784" y="531.8" width="2.4" height="3.2"/>
<rect x="788" y="531" width="2.4" height="4"/>
<rect x="792" y="532.5" width="2.4" height="2.5"/>
<rect x="796" y="533" width="2.4" height="2"/>
<rect x="800.1" y="533.5" width="2.4" height="1.5"/>
<rect x="804.1" y="534.1" width="2.4" height="0.9"/>
<rect x="808.1" y="534.5" width="2.4" height="0.5"/>
<rect x="872.3" y="535" width="2.4" height="0.6"/>
<rect x="876.3" y="535" width="2.4" height="1.9"/>
<rect x="880.4" y="535" width="2.4" height="2.9"/>
<rect x="884.4" y="535" width="2.4" height="3.1"/>
<rect x="888.4" y="535" width="2.4" height="2.1"/>
<rect x="892.4" y="535" width="2.4" height="0.8"/>
<rect x="900.4" y="533.9" width="2.4" height="1.1"/>
<rect x="904.4" y="533.2" width="2.4" height="1.8"/>
<rect x="908.5" y="531.2" width="2.4" height="3.8"/>
<rect x="912.5" y="528.1" width="2.4" height="6.9"/>
<rect x="916.5" y="521.2" width="2.4" height="13.8"/>
<rect x="920.5" y="518" width="2.4" height="17"/>
<rect x="924.5" y="524.3" width="2.4" height="10.7"/>
<rect x="928.5" y="525.9" width="2.4" height="9.1"/>
<rect x="932.6" y="527" width="2.4" height="8"/>
<rect x="936.6" y="528.6" width="2.4" height="6.4"/>
<rect x="940.6" y="530" width="2.4" height="5"/>
<rect x="944.6" y="530" width="2.4" height="5"/>
<rect x="948.6" y="533.3" width="2.4" height="1.7"/>
</g>
<path d="M224.5 536.7 L231 531 L239.2 528 L254 526.4 L270.4 524.4 L286.8 523.6 L296.6 523.6 L304.8 526.1 L309.7 529.3 L314.6 535.9 L319.6 540.8 L324.5 544.1 L331 545.7 L336 548.2 L342.5 553.1 L350.7 559.7 L355.6 560.2 L363.8 558 L372 556.9 L380.2 556.9 L390 556.9 L398.2 556.4 L403.2 553.1 L407.9 551 L416.1 551 L427.6 551.5 L435.8 551.5 L442.3 553.9 L447.3 555.6 L453.8 554.8 L460.4 553.1 L471.9 553.6 L476.8 552 L485 548.2 L494.8 544.9 L499.7 540 L504.6 536.7 L511.2 534.3 L517.8 531.8 L524.3 530.2 L530.9 531.8 L535.8 533.4 L540.7 530.7 L547.3 530.7 L555.5 532.3 L563.7 532.3 L575.1 533.4 L583.3 533.4 L589.9 531 L593 529.3 L602.8 529 L612.7 529.3 L622.5 529.3 L630.7 529.3 L637.3 532.3 L640.5 537.5 L643.8 544.9 L648.7 549.8 L653.7 555.6 L658.6 563 L663.5 570.3 L668.4 577.7 L673.3 583.4 L678.2 586.7 L684.8 585.1 L691.4 583.4 L697.9 581.5 L704.5 576.9 L711 570.3 L717.6 564.6 L724.1 558.9 L730.7 553.1 L737.3 549 L743.8 547 L750.4 545.7 L756.9 543.3 L763.5 540 L770 537.5 L776.6 537.2 L783.2 533.9 L790.2 534.6 L801 534.6 L815.5 533.1 L829.9 532.2 L842.5 533.1 L855.1 533.1 L867.8 532.2 L875 534.9 L880.4 538.5 L885.8 539.1 L893 537.1 L898.4 531.3 L905.6 527.7 L912.8 522.3 L916.5 508.8 L921.9 503 L927.3 505.2 L930.9 505.7 L936.3 503 L945.3 501.6 L950.7 504.3 L958.8 507" fill="none" stroke="#5fd6c2" stroke-width="1.5" stroke-linejoin="round"/>
<path d="M224.5 536.7 L237.6 533 L254 529.3 L270.4 526.9 L286.8 524.9 L298.2 524.1 L306.4 524.8 L313 527.4 L319.6 531 L327.8 535.6 L332.7 535.9 L340.9 540 L349.1 545.7 L357.3 551.5 L365.5 554.8 L373.7 556.4 L385.1 557.2 L396.6 557.2 L403 556.4 L411.2 553.6 L419.4 552 L432.5 551 L437.4 552 L445.6 552.8 L452.2 552.3 L460.4 552.8 L473.5 553.6 L480 552.3 L488.2 549.8 L498.1 547.7 L504.6 546.6 L514.5 541.6 L524.3 537.5 L534.1 535.1 L544 533.4 L553.8 531.8 L560.4 531.8 L570.2 532.3 L580 533 L586.6 533 L593 533.4 L602.8 531.3 L616 530.2 L627.4 529.3 L635.6 529.8 L642.2 533 L648.7 537.5 L655.3 543.3 L661.9 549.8 L668.4 557.2 L675 564.6 L681.5 571.1 L688.1 575.6 L694.6 578.5 L701.2 579.8 L707.8 578.5 L714.3 575.2 L722.5 571.1 L725.8 571.5 L730.7 567 L737.3 562.1 L745.5 557.2 L753.7 553.1 L761.9 549 L770 545.7 L778.2 542.1 L786.4 539.2 L793.8 537.6 L804.6 535.8 L819.1 534.4 L837.1 533.5 L855.1 533.5 L869.6 532.8 L878.6 534 L887.6 536.4 L894.8 536.4 L902 533.1 L909.2 528.6 L916.5 523.2 L921.9 521.4 L927.3 517.8 L934.5 513.3 L941.7 509.7 L948.9 507 L958.8 506.1" fill="none" stroke="#477fb0" stroke-width="1.8" stroke-linejoin="round"/>
<g>
<line x1="224.1" y1="527.4" x2="224.5" y2="535.2" stroke="#a3a3a3" stroke-width="1"/>
<line x1="297.8" y1="516.2" x2="297.8" y2="523.5" stroke="#a3a3a3" stroke-width="1"/>
<line x1="357.6" y1="548.2" x2="378.6" y2="555.2" stroke="#a3a3a3" stroke-width="1"/>
<line x1="377.8" y1="548.2" x2="386" y2="555.2" stroke="#a3a3a3" stroke-width="1"/>
<line x1="397" y1="549" x2="397.3" y2="555.8" stroke="#a3a3a3" stroke-width="1"/>
<line x1="436.3" y1="543.3" x2="436.9" y2="550.8" stroke="#a3a3a3" stroke-width="1"/>
<line x1="475.1" y1="544.9" x2="475.1" y2="552.4" stroke="#a3a3a3" stroke-width="1"/>
<line x1="544.3" y1="524" x2="559.1" y2="531.5" stroke="#a3a3a3" stroke-width="1"/>
<line x1="563.5" y1="524.3" x2="585.6" y2="532.3" stroke="#a3a3a3" stroke-width="1"/>
<line x1="584.7" y1="521.5" x2="616.1" y2="530.4" stroke="#a3a3a3" stroke-width="1"/>
<line x1="603.8" y1="521" x2="627.2" y2="528.9" stroke="#a3a3a3" stroke-width="1"/>
<line x1="625" y1="521.5" x2="628.6" y2="528.9" stroke="#a3a3a3" stroke-width="1"/>
<line x1="701.5" y1="570.7" x2="701.2" y2="578.5" stroke="#a3a3a3" stroke-width="1"/>
<line x1="825.9" y1="525" x2="839.8" y2="532" stroke="#a3a3a3" stroke-width="1"/>
<line x1="845.2" y1="525" x2="856.9" y2="532.6" stroke="#a3a3a3" stroke-width="1"/>
<line x1="866.3" y1="525" x2="872.3" y2="532" stroke="#a3a3a3" stroke-width="1"/>
<line x1="893.4" y1="528.1" x2="893.9" y2="535.1" stroke="#a3a3a3" stroke-width="1"/>
<path d="M221.6 539.8 L224.5 533.8 L227.4 539.8 Z" fill="#6d7f8c"/>
<path d="M294.9 528.1 L297.8 522.1 L300.7 528.1 Z" fill="#6d7f8c"/>
<path d="M375.7 559.8 L378.6 553.8 L381.5 559.8 Z" fill="#6d7f8c"/>
<path d="M383.1 559.8 L386 553.8 L388.9 559.8 Z" fill="#6d7f8c"/>
<path d="M394.4 560.4 L397.3 554.4 L400.2 560.4 Z" fill="#6d7f8c"/>
<path d="M434 555.4 L436.9 549.4 L439.8 555.4 Z" fill="#6d7f8c"/>
<path d="M472.2 557 L475.1 551 L478 557 Z" fill="#6d7f8c"/>
<path d="M556.2 536.1 L559.1 530.1 L562 536.1 Z" fill="#6d7f8c"/>
<path d="M582.7 536.9 L585.6 530.9 L588.5 536.9 Z" fill="#6d7f8c"/>
<path d="M613.2 535 L616.1 529 L619 535 Z" fill="#6d7f8c"/>
<path d="M624.3 533.5 L627.2 527.5 L630.1 533.5 Z" fill="#6d7f8c"/>
<path d="M625.7 533.5 L628.6 527.5 L631.5 533.5 Z" fill="#6d7f8c"/>
<path d="M698.3 583.1 L701.2 577.1 L704.1 583.1 Z" fill="#6d7f8c"/>
<path d="M836.9 536.6 L839.8 530.6 L842.7 536.6 Z" fill="#6d7f8c"/>
<path d="M854 537.2 L856.9 531.2 L859.8 537.2 Z" fill="#6d7f8c"/>
<path d="M869.4 536.6 L872.3 530.6 L875.2 536.6 Z" fill="#6d7f8c"/>
<path d="M891 539.7 L893.9 533.7 L896.8 539.7 Z" fill="#6d7f8c"/>
<rect x="224.1" y="510.2" width="21.7" height="17.2" fill="#fff" stroke="#a6a6a6" stroke-width="1"/>
<text class="fl" x="227.1" y="523" textLength="15.6" lengthAdjust="spacingAndGlyphs">Buy</text>
<rect x="297.8" y="498.5" width="18.8" height="17.7" fill="#fff" stroke="#a6a6a6" stroke-width="1"/>
<text class="fl" x="300.1" y="511.6" textLength="14.3" lengthAdjust="spacingAndGlyphs">Sell</text>
<rect x="357.6" y="531" width="20.2" height="17.2" fill="#fff" stroke="#a6a6a6" stroke-width="1"/>
<text class="fl" x="359.9" y="543.8" textLength="15.6" lengthAdjust="spacingAndGlyphs">Buy</text>
<rect x="377.8" y="531" width="18.8" height="17.2" fill="#fff" stroke="#a6a6a6" stroke-width="1"/>
<text class="fl" x="380.1" y="543.8" textLength="14.3" lengthAdjust="spacingAndGlyphs">Sell</text>
<rect x="397" y="531.3" width="21.9" height="17.7" fill="#fff" stroke="#a6a6a6" stroke-width="1"/>
<text class="fl" x="400.1" y="544.4" textLength="15.6" lengthAdjust="spacingAndGlyphs">Buy</text>
<rect x="436.3" y="525.2" width="19.5" height="18.1" fill="#fff" stroke="#a6a6a6" stroke-width="1"/>
<text class="fl" x="438.9" y="538.5" textLength="14.3" lengthAdjust="spacingAndGlyphs">Sell</text>
<rect x="475.1" y="527.4" width="22.2" height="17.5" fill="#fff" stroke="#a6a6a6" stroke-width="1"/>
<text class="fl" x="478.4" y="540.4" textLength="15.6" lengthAdjust="spacingAndGlyphs">Buy</text>
<rect x="544.3" y="506.3" width="18.9" height="17.7" fill="#fff" stroke="#a6a6a6" stroke-width="1"/>
<text class="fl" x="546.6" y="519.4" textLength="14.3" lengthAdjust="spacingAndGlyphs">Sell</text>
<rect x="563.5" y="507.3" width="20.9" height="17" fill="#fff" stroke="#a6a6a6" stroke-width="1"/>
<text class="fl" x="566.2" y="520" textLength="15.6" lengthAdjust="spacingAndGlyphs">Buy</text>
<rect x="584.7" y="504.5" width="19.1" height="17" fill="#fff" stroke="#a6a6a6" stroke-width="1"/>
<text class="fl" x="587.1" y="517.2" textLength="14.3" lengthAdjust="spacingAndGlyphs">Sell</text>
<rect x="603.8" y="503.7" width="21.2" height="17.3" fill="#fff" stroke="#a6a6a6" stroke-width="1"/>
<text class="fl" x="606.6" y="516.6" textLength="15.6" lengthAdjust="spacingAndGlyphs">Buy</text>
<rect x="625" y="503.7" width="19.3" height="17.8" fill="#fff" stroke="#a6a6a6" stroke-width="1"/>
<text class="fl" x="627.5" y="516.8" textLength="14.3" lengthAdjust="spacingAndGlyphs">Sell</text>
<rect x="701.5" y="553.6" width="21.8" height="17.1" fill="#fff" stroke="#a6a6a6" stroke-width="1"/>
<text class="fl" x="704.6" y="566.4" textLength="15.6" lengthAdjust="spacingAndGlyphs">Buy</text>
<rect x="825.9" y="507.3" width="19.3" height="17.7" fill="#fff" stroke="#a6a6a6" stroke-width="1"/>
<text class="fl" x="828.4" y="520.4" textLength="14.3" lengthAdjust="spacingAndGlyphs">Sell</text>
<rect x="845.2" y="508.2" width="21.1" height="16.8" fill="#fff" stroke="#a6a6a6" stroke-width="1"/>
<text class="fl" x="848" y="520.8" textLength="15.6" lengthAdjust="spacingAndGlyphs">Buy</text>
<rect x="866.3" y="507.3" width="19.5" height="17.7" fill="#fff" stroke="#a6a6a6" stroke-width="1"/>
<text class="fl" x="868.9" y="520.4" textLength="14.3" lengthAdjust="spacingAndGlyphs">Sell</text>
<rect x="893.4" y="510.6" width="22.2" height="17.5" fill="#fff" stroke="#a6a6a6" stroke-width="1"/>
<text class="fl" x="896.7" y="523.6" textLength="15.6" lengthAdjust="spacingAndGlyphs">Buy</text>
</g>
<g>
<text class="ax" x="979.3" y="20.5" textLength="21.1" lengthAdjust="spacingAndGlyphs">0.075</text>
<text class="ax" x="979.3" y="66.4" textLength="16.4" lengthAdjust="spacingAndGlyphs">0.07</text>
<text class="ax" x="979.3" y="112.9" textLength="21.1" lengthAdjust="spacingAndGlyphs">0.065</text>
<text class="ax" x="979.3" y="159.4" textLength="16.4" lengthAdjust="spacingAndGlyphs">0.06</text>
<text class="ax" x="979.3" y="205.9" textLength="21.1" lengthAdjust="spacingAndGlyphs">0.055</text>
<text class="ax" x="979.3" y="252.7" textLength="16.4" lengthAdjust="spacingAndGlyphs">0.05</text>
<text class="ax" x="979.3" y="299.6" textLength="21.1" lengthAdjust="spacingAndGlyphs">0.045</text>
<text class="ax" x="979.3" y="346.4" textLength="16.4" lengthAdjust="spacingAndGlyphs">0.04</text>
<text class="ax" x="979.3" y="385.4" textLength="9.4" lengthAdjust="spacingAndGlyphs">70</text>
<text class="ax" x="979.3" y="418.8" textLength="9.4" lengthAdjust="spacingAndGlyphs">30</text>
<text class="ax" x="979.3" y="456.1" textLength="21.1" lengthAdjust="spacingAndGlyphs">0.005</text>
<text class="ax" x="979.3" y="497.4" textLength="21.1" lengthAdjust="spacingAndGlyphs">0.002</text>
<text class="ax" x="979.3" y="538.6" textLength="4.7" lengthAdjust="spacingAndGlyphs">0</text>
<text class="ax" x="979.3" y="580.1" textLength="19.3" lengthAdjust="spacingAndGlyphs">-0.00</text>
<text class="ax" x="979.3" y="620.8" textLength="19.3" lengthAdjust="spacingAndGlyphs">-0.00</text>
<text class="ax" x="979.3" y="634.3" textLength="20.7" lengthAdjust="spacingAndGlyphs">360G</text>
<text class="ax" x="979.3" y="661.2" textLength="20.7" lengthAdjust="spacingAndGlyphs">350G</text>
<text class="ax" x="979.3" y="688.7" textLength="20.7" lengthAdjust="spacingAndGlyphs">340G</text>
<text class="ax" x="979.3" y="715.3" textLength="20.7" lengthAdjust="spacingAndGlyphs">330G</text>
</g>
<g class="ax">
<text x="230.7" y="728.5" style="font-size:10.5px" textLength="25" lengthAdjust="spacingAndGlyphs">1. Aug</text>
<text x="284.5" y="728.5" style="font-size:10.5px" textLength="29.9" lengthAdjust="spacingAndGlyphs">15. Aug</text>
<text x="340.8" y="728.5" style="font-size:10.5px" textLength="29.9" lengthAdjust="spacingAndGlyphs">29. Aug</text>
<text x="396.9" y="728.5" style="font-size:10.5px" textLength="30.4" lengthAdjust="spacingAndGlyphs">12. Sep</text>
<text x="453.2" y="728.5" style="font-size:10.5px" textLength="30.4" lengthAdjust="spacingAndGlyphs">26. Sep</text>
<text x="510.5" y="728.5" style="font-size:10.5px" textLength="28.4" lengthAdjust="spacingAndGlyphs">10. Oct</text>
<text x="566.8" y="728.5" style="font-size:10.5px" textLength="28.4" lengthAdjust="spacingAndGlyphs">24. Oct</text>
<text x="624.6" y="728.5" style="font-size:10.5px" textLength="25.5" lengthAdjust="spacingAndGlyphs">7. Nov</text>
<text x="678.4" y="728.5" style="font-size:10.5px" textLength="30.4" lengthAdjust="spacingAndGlyphs">21. Nov</text>
<text x="737.2" y="728.5" style="font-size:10.5px" textLength="25.5" lengthAdjust="spacingAndGlyphs">5. Dec</text>
<text x="791" y="728.5" style="font-size:10.5px" textLength="30.4" lengthAdjust="spacingAndGlyphs">19. Dec</text>
<text x="850.5" y="728.5" style="font-size:10.5px" textLength="24" lengthAdjust="spacingAndGlyphs">2. Jan</text>
<text x="904.3" y="728.5" style="font-size:10.5px" textLength="28.9" lengthAdjust="spacingAndGlyphs">16. Jan</text>
</g>
</g>
<g>
<rect x="213" y="60.2" width="761.5" height="5.8" fill="#dc5050" fill-opacity="0.45"/>
<rect x="213" y="107.1" width="761.5" height="5.8" fill="#dc5050" fill-opacity="0.45"/>
<rect x="213" y="169.3" width="761.5" height="6.2" fill="#3cbe96" fill-opacity="0.42"/>
<rect x="213" y="248" width="761.5" height="6.2" fill="#3cbe96" fill-opacity="0.42"/>
<line x1="290.5" y1="38.6" x2="984" y2="184.6" stroke="#a6a6a6" stroke-opacity="0.95" stroke-width="2.4"/>
<line x1="762" y1="50" x2="803.5" y2="140.5" stroke="#111" stroke-width="0.9"/>
<path d="M807 148.3 L798.6 139.6 L805.7 136.6 Z" fill="#000"/>
<text x="697.8" y="39.1" style="font-size:15px" fill="#1a1a1a" textLength="108.3" lengthAdjust="spacingAndGlyphs">Down trendline</text>
<text transform="translate(670.3 88.8) rotate(15)" style="font-size:16.3px" fill="#d3204f" textLength="70" lengthAdjust="spacingAndGlyphs">SMA(200)</text>
<text x="218.8" y="34" style="font-size:15.5px;font-weight:bold" fill="#000" textLength="34" lengthAdjust="spacingAndGlyphs">2023</text>
<text x="869" y="374.3" style="font-size:16.3px" fill="#7030a0" textLength="99.6" lengthAdjust="spacingAndGlyphs">RSI (14) = 59.9</text>
<text x="928" y="472.7" style="font-size:15.5px" fill="#4472c4" textLength="43.8" lengthAdjust="spacingAndGlyphs">MACD</text>
<text x="940.5" y="644.8" style="font-size:15px" fill="#e2a93a" textLength="29.6" lengthAdjust="spacingAndGlyphs">OBV</text>
<rect x="10" y="10" width="202.9" height="719.6" fill="#000"/>
<rect x="1001.1" y="10" width="209" height="719.6" fill="#000"/>
<rect x="10" y="10" width="1200" height="2" fill="#000"/>
<rect x="189.5" y="169.3" width="23.2" height="6.2" fill="#16503f"/>
<rect x="189.5" y="248" width="23.2" height="6.2" fill="#16503f"/>
<text x="25.3" y="67.8" style="font-size:15px" fill="#c3282f" textLength="183" lengthAdjust="spacingAndGlyphs">Resistance Zone @ $0.070</text>
<text x="25.3" y="113.6" style="font-size:15px" fill="#c3282f" textLength="183" lengthAdjust="spacingAndGlyphs">Resistance Zone @ $0.065</text>
<text x="20.8" y="177.1" style="font-size:15px" fill="#3dbb95" textLength="165.6" lengthAdjust="spacingAndGlyphs">Support Zone @ $0.058</text>
<text x="20.8" y="255.5" style="font-size:15px" fill="#3dbb95" textLength="165.6" lengthAdjust="spacingAndGlyphs">Support Zone @ $0.050</text>
<g fill="none" stroke="#8a8a8a" stroke-width="1.2">
<rect x="1002.9" y="12.4" width="205.5" height="211.8"/>
<rect x="1002.9" y="234.2" width="201.1" height="110.6"/>
<rect x="1002.9" y="366.5" width="201.1" height="54.3"/>
<rect x="1002.9" y="462.2" width="201.1" height="121.4"/>
<rect x="1002.9" y="632.5" width="201.4" height="54.8"/>
</g>
<line x1="972" y1="534.6" x2="1002" y2="536.9" stroke="#222" stroke-width="1"/>
<path d="M961.3 534 L973.4 530.3 L972.8 538.4 Z" fill="#000"/>
<rect x="71.1" y="643.1" width="42.2" height="45.1" fill="#143d32"/>
<text x="78" y="684.8" style="font-size:23px;font-weight:bold" fill="#000" textLength="32" lengthAdjust="spacingAndGlyphs">alt</text>
<g style="font-size:61.5px;font-weight:bold" fill="#143d32" stroke="#143d32" stroke-width="1.6" stroke-linejoin="miter">
<text x="117.8" y="687.4" textLength="32.6" lengthAdjust="spacingAndGlyphs">F</text>
<text x="152.3" y="687.4" textLength="18.6" lengthAdjust="spacingAndGlyphs">I</text>
<text x="171.8" y="687.4" textLength="38" lengthAdjust="spacingAndGlyphs">N</text>
<text x="211" y="688.2" style="font-size:63.5px" textLength="37.4" lengthAdjust="spacingAndGlyphs">S</text>
</g>
<path d="M222.6 673.6 L227.3 671.6 L232.5 674.7 L238.6 678.6 L245.8 677.5 L250.9 680.2 L259.1 676.7 L263.2 678.2 L271.4 674.5 L275.5 676.1 L279.6 674.7 L283.7 676.7 L287.8 674.5 L291.9 676.1 L296 673.6 L299.1 676.1 L304.2 673.6 L310.3 677.7 L315.5 680.6 L323.7 677.1 L327.3 679.2 L331.4 676.7 L335.5 679.6 L339 677.5 L343.7 681.6 L348.2 678.6 L351.9 679.8 L360.1 674.7 L364.6 677.1 L372.4 679.8 L380 675.7 L388.2 680.2 L392.3 678.6 L396.4 680.8 L404.6 677.5 L412.8 682.3 L416.9 684.3 L420 682.3 L424.1 684.3 L431.9 680.2 L436.4 682.3 L447.6 688.4 L455.8 684.7 L464.3 689.4 L472.5 694.1 L483.7 683.7 L488.2 685.9 L495 680.6 L508.3 673.6 L516.5 677.5 L520.6 676.1 L524.7 671 L528.8 673 L532.9 668.9 L536.6 671 L540.7 666.9 L544.8 670 L553 665.9 L561.2 670.4 L565.3 668.5 L572.9 671.6 L577 670.4 L581.1 671.6 L588.2 668.5 L593.4 670.6 L600.5 667.3 L604.6 668.5 L609.1 667.3 L621 673 L625.1 671 L630.3 673 L645.6 675.7 L649.7 674.7 L654.8 675.5 L665.1 679.2 L669.2 677.5 L677.4 685.3 L685.6 679.6 L689.7 681.6 L693.8 677.5 L697.9 682.9 L705.3 674.1 L709.4 671.6 L713.5 673 L717.2 671 L721.7 674.7 L729.5 668.5 L733.6 671 L738.1 668.5 L746.3 673 L754.1 667.5 L758.2 670 L769.8 663.8 L773.9 665.2 L778 668.9 L789.3 659.7 L793.4 662.4 L797.5 659.7 L805.7 663.8 L809.8 661.8 L813.9 662.8 L818 661.1 L822.1 662.8 L830.3 660.7 L834.4 661.8 L845.7 667.5 L853.9 664.2 L862.1 661.4 L867.2 663.8 L874.4 666.9 L878.5 677.5 L882.5 680.2 L890 674.7 L898.8 670.3 L905.8 666.8 L911.1 660.6 L918.1 656.6 L926.9 661.2 L934 658 L942.8 661.9 L947.1 660.3 L951.5 661.9 L958.6 659.8" fill="none" stroke="#d9ab3f" stroke-width="1.8" stroke-linejoin="round"/>
</g>
</svg></body></html>
